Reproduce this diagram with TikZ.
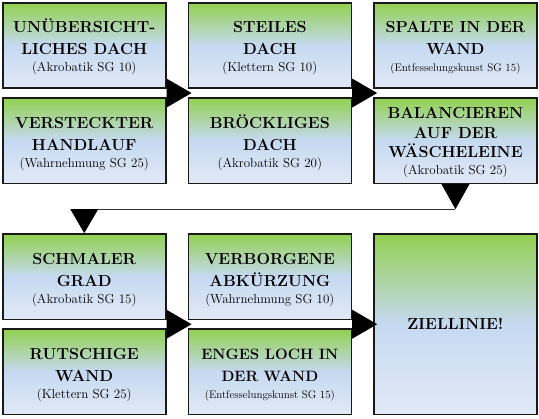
\documentclass[tikz,border=0pt]{standalone}
\usepackage{fontspec}
\usetikzlibrary{positioning}
\usetikzlibrary{calc}
\definecolor{boxgruen}{RGB}{146,208,80}
\definecolor{boxblau}{RGB}{198,217,241}
\definecolor{boxhell}{RGB}{226,233,246}
\newcommand{\probe}[1]{\\[-5pt]{\fontsize{13}{15}\selectfont\mdseries #1}}
\newcommand{\probeklein}[1]{\\[-5pt]{\fontsize{11}{15}\selectfont\mdseries #1}}

\begin{document}
\begin{tikzpicture}[hindernis/.style={draw=black!90, line width=1.6pt, minimum width=163pt, minimum height=85.5pt, align=center, top color=boxgruen, bottom color=boxhell, middle color=boxblau, font=\fontsize{16}{22}\selectfont\bfseries, text height=53pt, text depth=0pt}, pfeil/.style={fill=black}, linie/.style={draw=black!80, line width=.8pt}]
\useasboundingbox (0,0) rectangle (539pt,419pt);
\node[hindernis] (a1) at (84.25pt,373.5pt) {UNÜBERSICHT-\\LICHES DACH\probe{(Akrobatik SG 10)}};
\node[hindernis, below=8pt of a1] (a2) {VERSTECKTER\\HANDLAUF\probe{(Wahrnehmung SG 25)}};
\node[hindernis, right=21pt of a1] (b1) {STEILES\\DACH\probe{(Klettern SG 10)}};
\node[hindernis, below=8pt of b1] (b2) {BRÖCKLIGES\\DACH\probe{(Akrobatik SG 20)}};
\node[hindernis, right=21pt of b1] (c1) {SPALTE IN DER\\WAND\probeklein{(Entfesselungskunst SG 15)}};
\node[hindernis, below=8pt of c1, text height=68pt] (c2) {BALANCIEREN\\[-2.5pt]AUF DER\\[-2.5pt]WÄSCHELEINE\probe{(Akrobatik SG 25)}};

\node[hindernis, below=49pt of a2] (a3) {SCHMALER\\GRAD\probe{(Akrobatik SG 15)}};
\node[hindernis, below=8pt of a3] (a4) {RUTSCHIGE\\WAND\probe{(Klettern SG 25)}};
\node[hindernis, right=21pt of a3] (b3) {VERBORGENE\\ABKÜRZUNG\probe{(Wahrnehmung SG 10)}};
\node[hindernis, below=8pt of b3, font=\fontsize{15}{22}\selectfont\bfseries] (b4) {ENGES LOCH IN\\DER WAND\probeklein{(Entfesselungskunst SG 15)}};
\node[hindernis, right=21pt of b3.north east, anchor=north west, minimum height=180.6pt, text height=11pt] (ziel) {ZIELLINIE!};

% Pfeile zwischen den Spalten
\fill[pfeil] ($(a1.south east)!.5!(a2.north east)$) coordinate (s1) ++(0,14.5pt) -- ($(s1 -| b1.west)+(4pt,0)$) -- ($(s1)+(0,-14.5pt)$) -- cycle;
\fill[pfeil] ($(b1.south east)!.5!(b2.north east)$) coordinate (s2) ++(0,14.5pt) -- ($(s2 -| c1.west)+(4pt,0)$) -- ($(s2)+(0,-14.5pt)$) -- cycle;
\fill[pfeil] ($(a3.south east)!.5!(a4.north east)$) coordinate (s3) ++(0,14.5pt) -- ($(s3 -| b3.west)+(4pt,0)$) -- ($(s3)+(0,-14.5pt)$) -- cycle;
\fill[pfeil] ($(b3.south east)!.5!(b4.north east)$) coordinate (s4) ++(0,14.5pt) -- ($(s4 -| ziel.west)+(4pt,0)$) -- ($(s4)+(0,-14.5pt)$) -- cycle;

% Rueckfuehrung in die untere Reihe
\coordinate (k1) at ($(c2.south)+(0,-25pt)$);
\coordinate (k2) at (k1 -| a3.north);
\draw[linie] (k1) -- (k2);
\fill[pfeil] ($(c2.south)+(-14pt,0)$) -- ($(c2.south)+(14pt,0)$) -- (k1) -- cycle;
\fill[pfeil] ($(k2)+(-14pt,0)$) -- ($(k2)+(14pt,0)$) -- (a3.north) -- cycle;
\end{tikzpicture}
\end{document}
